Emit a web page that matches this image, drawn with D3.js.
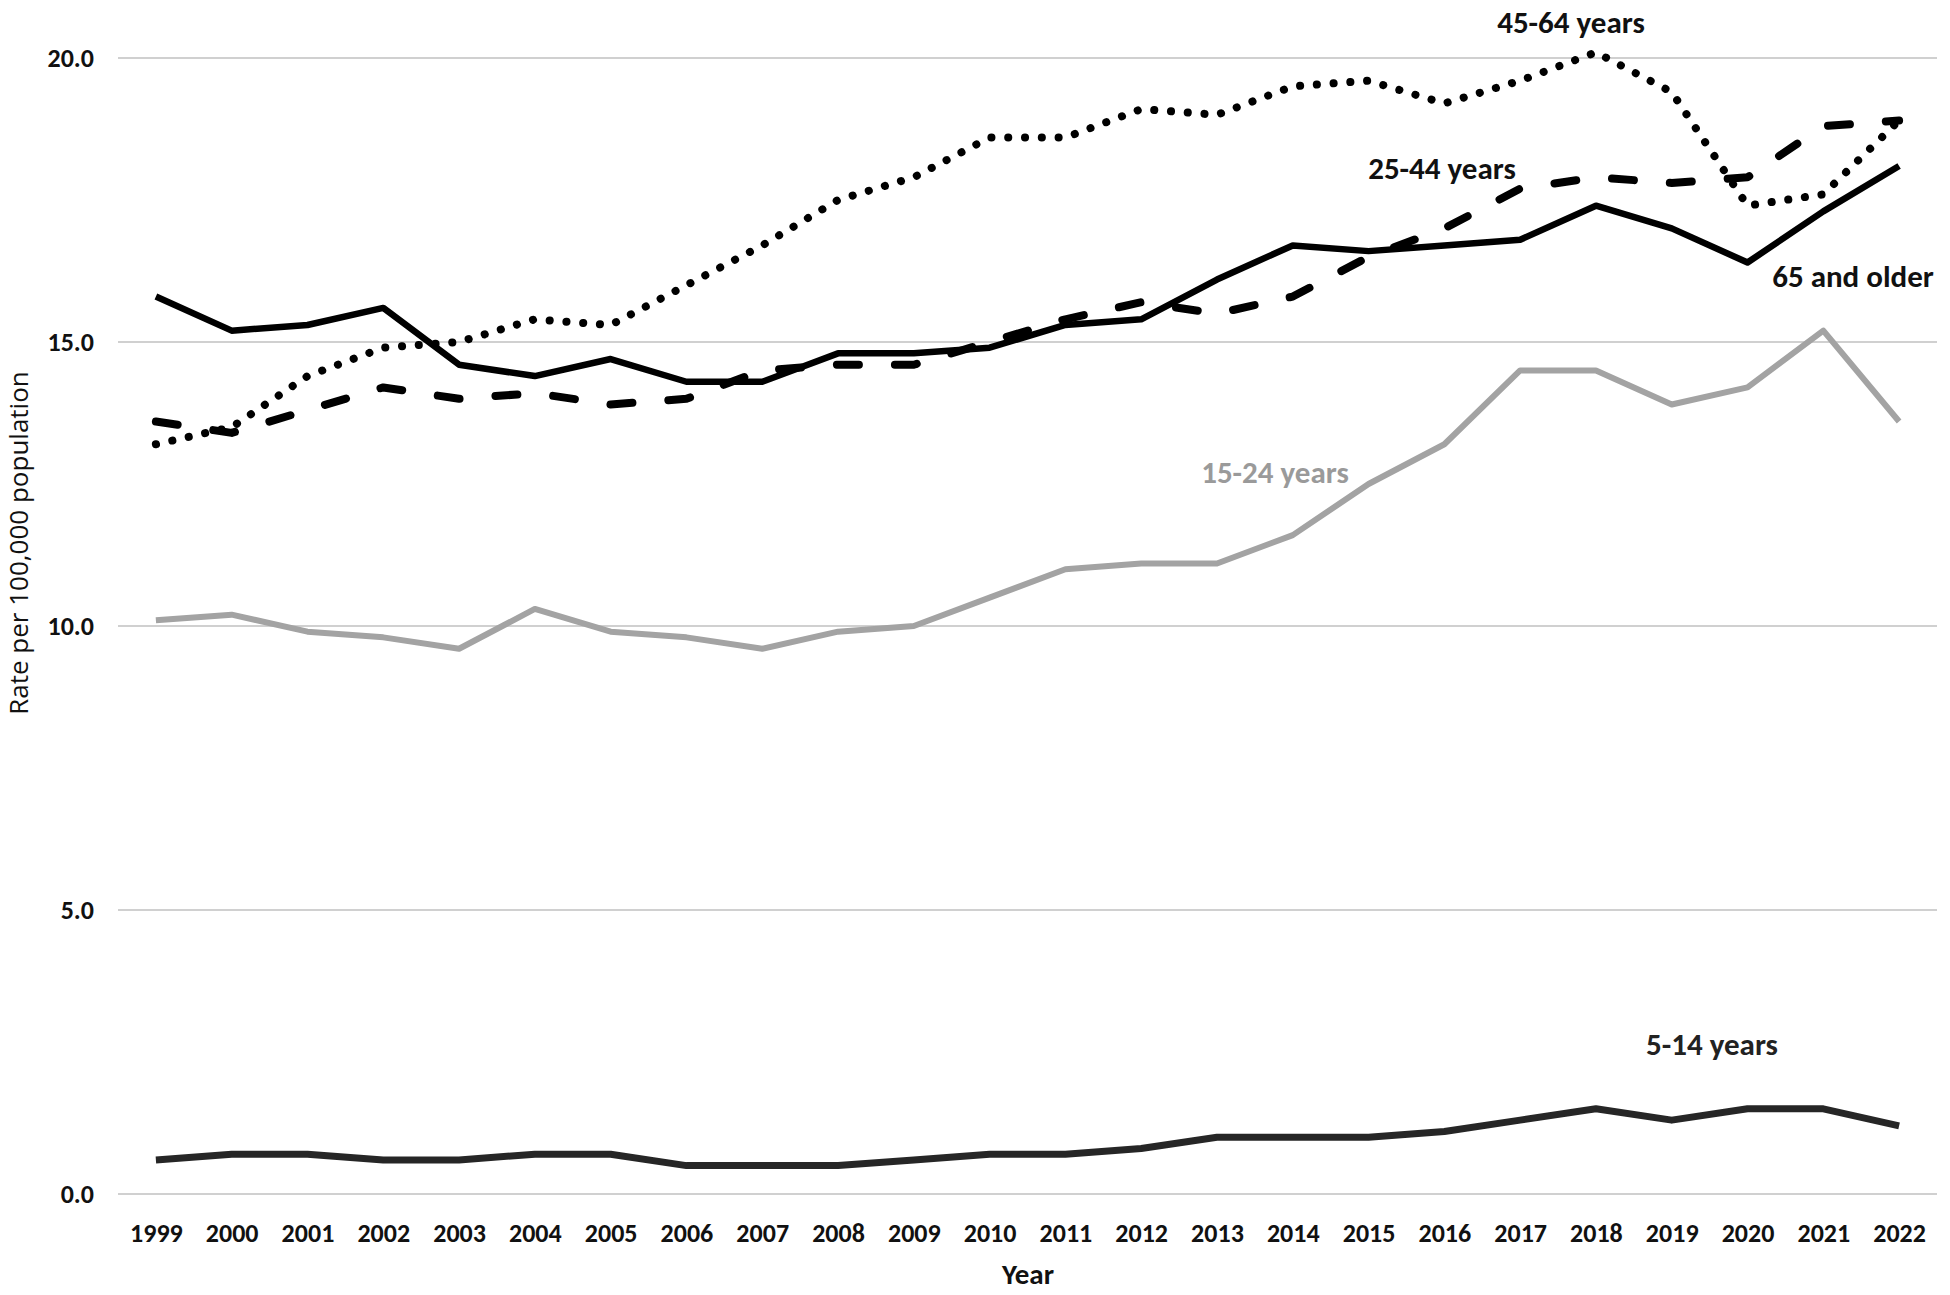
<!DOCTYPE html>
<html>
<head>
<meta charset="utf-8">
<script src="https://cdn.jsdelivr.net/npm/d3@7"></script>
<style>
  body { margin: 0; background: #fff; }
  svg text { font-family: Carlito, "Liberation Sans Narrow", "Noto Sans", sans-serif; }
</style>
</head>
<body>
<div id="chart"></div>
<script>
// Data
const years = d3.range(1999, 2023);
const older65 = [15.8, 15.2, 15.3, 15.6, 14.6, 14.4, 14.7, 14.3, 14.3, 14.8, 14.8, 14.9, 15.3, 15.4, 16.1, 16.7, 16.6, 16.7, 16.8, 17.4, 17.0, 16.4, 17.3, 18.1];
const age45to64 = [13.2, 13.5, 14.4, 14.9, 15.0, 15.4, 15.3, 16.0, 16.7, 17.5, 17.9, 18.6, 18.6, 19.1, 19.0, 19.5, 19.6, 19.2, 19.6, 20.1, 19.4, 17.4, 17.6, 18.9];
const age25to44 = [13.6, 13.4, 13.8, 14.2, 14.0, 14.1, 13.9, 14.0, 14.5, 14.6, 14.6, 15.0, 15.4, 15.7, 15.5, 15.8, 16.5, 17.0, 17.7, 17.9, 17.8, 17.9, 18.8, 18.9];
const age15to24 = [10.1, 10.2, 9.9, 9.8, 9.6, 10.3, 9.9, 9.8, 9.6, 9.9, 10.0, 10.5, 11.0, 11.1, 11.1, 11.6, 12.5, 13.2, 14.5, 14.5, 13.9, 14.2, 15.2, 13.6];
const age5to14 = [0.6, 0.7, 0.7, 0.6, 0.6, 0.7, 0.7, 0.5, 0.5, 0.5, 0.6, 0.7, 0.7, 0.8, 1.0, 1.0, 1.0, 1.1, 1.3, 1.5, 1.3, 1.5, 1.5, 1.2];
const yTicks = [0, 5, 10, 15, 20];

const width = 1950, height = 1295;
const plot = { left: 118, right: 1937, top: 58, bottom: 1194 };

const svg = d3.select("#chart").append("svg")
    .attr("width", width)
    .attr("height", height);

const x = d3.scalePoint().domain(years).range([plot.left, plot.right]).padding(0.5);
const y = d3.scaleLinear().domain([0, 20]).range([plot.bottom, plot.top]);

// Gridlines
svg.append("g")
    .selectAll("line")
    .data(yTicks)
    .join("line")
    .attr("x1", plot.left)
    .attr("x2", plot.right)
    .attr("y1", d => y(d))
    .attr("y2", d => y(d))
    .attr("stroke", "#d0d0d0")
    .attr("stroke-width", 2);

// Y axis labels
const yAxis = svg.append("g")
    .attr("transform", `translate(${plot.left - 24},0)`)
    .call(d3.axisLeft(y).tickValues(yTicks).tickFormat(d3.format(".1f")).tickSize(0).tickPadding(0));
yAxis.select(".domain").remove();
yAxis.selectAll("text")
    .attr("font-size", 26)
    .attr("font-weight", "bold")
    .attr("fill", "#111");

// X axis labels
const xAxis = svg.append("g")
    .attr("transform", `translate(0,${plot.bottom})`)
    .call(d3.axisBottom(x).tickSize(0).tickPadding(30));
xAxis.select(".domain").remove();
xAxis.selectAll("text")
    .attr("font-size", 26)
    .attr("font-weight", "bold")
    .attr("fill", "#111");

// Axis titles
svg.append("text")
    .attr("x", 1028)
    .attr("y", 1284)
    .attr("text-anchor", "middle")
    .attr("font-size", 29)
    .attr("font-weight", "bold")
    .attr("fill", "#111")
    .text("Year");

svg.append("text")
    .attr("transform", "translate(28,543) rotate(-90)")
    .attr("text-anchor", "middle")
    .style("font-family", "'Open Sans', sans-serif")
    .attr("font-size", 26)
    .attr("fill", "#111")
    .text("Rate per 100,000 population");

// Lines
const line = d3.line()
    .x((d, i) => x(years[i]))
    .y(d => y(d));

const series = [
    { values: age15to24, color: "#a3a3a3", width: 6, dash: null, cap: "butt" },
    { values: age5to14, color: "#262626", width: 7, dash: null, cap: "butt" },
    { values: age25to44, color: "#000", width: 8, dash: "22 36", cap: "round" },
    { values: older65, color: "#000", width: 6.5, dash: null, cap: "butt" },
    { values: age45to64, color: "#000", width: 8, dash: "0.1 16.7", cap: "round" }
];

svg.append("g")
    .selectAll("path")
    .data(series)
    .join("path")
    .attr("d", d => line(d.values))
    .attr("fill", "none")
    .attr("stroke", d => d.color)
    .attr("stroke-width", d => d.width)
    .attr("stroke-dasharray", d => d.dash)
    .attr("stroke-linecap", d => d.cap)
    .attr("stroke-linejoin", "round");

// Series labels
const labels = [
    { text: "45-64 years", x: 1571, y: 33, color: "#111" },
    { text: "25-44 years", x: 1442, y: 179, color: "#111" },
    { text: "65 and older", x: 1853, y: 287, color: "#111" },
    { text: "15-24 years", x: 1275, y: 483, color: "#9a9a9a" },
    { text: "5-14 years", x: 1712, y: 1055, color: "#222" }
];

svg.append("g")
    .selectAll("text")
    .data(labels)
    .join("text")
    .attr("x", d => d.x)
    .attr("y", d => d.y)
    .attr("text-anchor", "middle")
    .attr("font-size", 31)
    .attr("font-weight", "bold")
    .attr("fill", d => d.color)
    .text(d => d.text);
</script>
</body>
</html>
